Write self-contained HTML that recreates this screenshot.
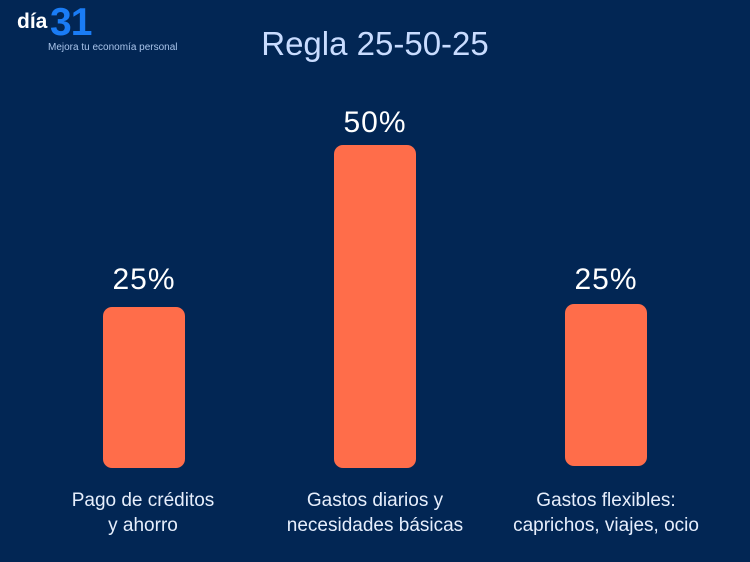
<!DOCTYPE html>
<html><head><style>
body{margin:0;width:750px;height:562px;background:#022654;font-family:"Liberation Sans",sans-serif;position:relative;overflow:hidden}
div{position:absolute}
.bar{background:#FF6D4A;border-radius:9px;width:82px}
.pct{color:#fff;font-size:30px;width:160px;text-align:center;letter-spacing:1px}
.lbl{color:#e6eefc;font-size:19px;width:240px;text-align:center;line-height:25px}
</style></head><body>
<div style="left:17px;top:10px;color:#fff;font-weight:bold;font-size:21px">día</div>
<div style="left:50px;top:1px;color:#1a7cf5;font-weight:bold;font-size:39px;letter-spacing:-1px">31</div>
<div style="left:48px;top:42px;color:#a9c4ea;font-size:10px">Mejora tu economía personal</div>
<div style="left:0;width:750px;top:25px;text-align:center;color:#c9dcff;font-size:33px">Regla 25-50-25</div>
<div class="pct" style="left:64px;top:263px">25%</div>
<div class="pct" style="left:295px;top:106px">50%</div>
<div class="pct" style="left:526px;top:263px">25%</div>
<div class="bar" style="left:103px;top:307px;height:161px"></div>
<div class="bar" style="left:334px;top:145px;height:323px"></div>
<div class="bar" style="left:565px;top:304px;height:162px"></div>
<div class="lbl" style="left:23px;top:488px">Pago de créditos<br>y ahorro</div>
<div class="lbl" style="left:255px;top:488px">Gastos diarios y<br>necesidades básicas</div>
<div class="lbl" style="left:486px;top:488px">Gastos flexibles:<br>caprichos, viajes, ocio</div>
</body></html>
